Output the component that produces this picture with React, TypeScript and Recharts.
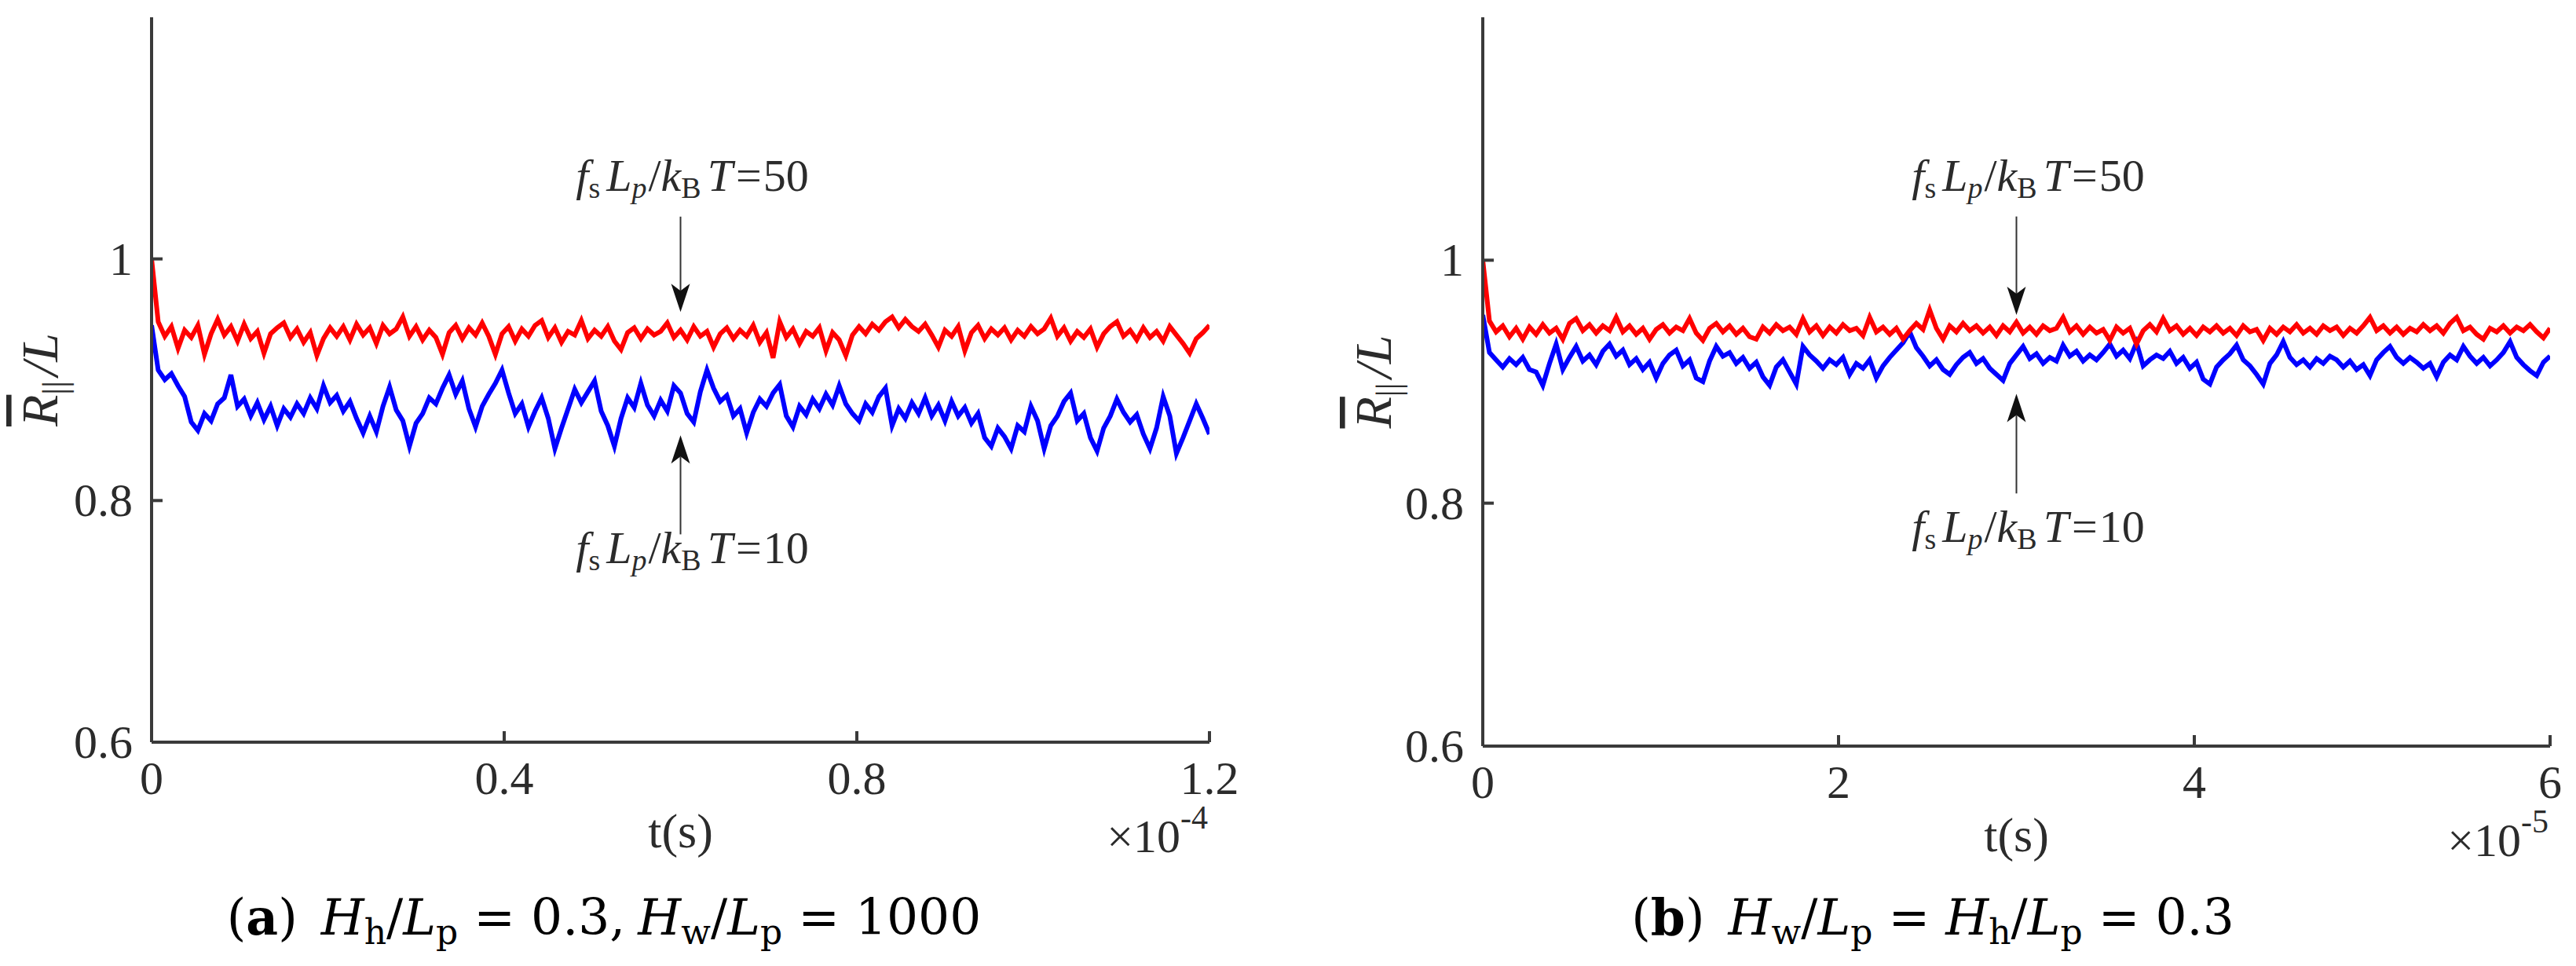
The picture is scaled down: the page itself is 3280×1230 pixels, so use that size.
import React from 'react';
import { LineChart, Line, XAxis, YAxis, ReferenceLine, ReferenceDot } from 'recharts';

// sampling step of the time axis (panel a in 1e-4 s, panel b in 1e-5 s)
const DT_A = 0.0075;
const DT_B = 0.0375;

// panel (a): fsLp/kBT = 50 (red) and 10 (blue)
const redA = [
  1.000, 0.948, 0.936, 0.944, 0.926, 0.941, 0.935, 0.945, 0.921, 0.938,
  0.950, 0.937, 0.944, 0.932, 0.946, 0.934, 0.940, 0.922, 0.938, 0.943,
  0.947, 0.935, 0.942, 0.931, 0.939, 0.920, 0.934, 0.943, 0.936, 0.944,
  0.933, 0.946, 0.937, 0.943, 0.930, 0.945, 0.938, 0.942, 0.952, 0.936,
  0.944, 0.933, 0.941, 0.935, 0.921, 0.939, 0.945, 0.934, 0.943, 0.937,
  0.947, 0.936, 0.921, 0.938, 0.944, 0.932, 0.942, 0.936, 0.945, 0.949,
  0.935, 0.943, 0.931, 0.940, 0.937, 0.949, 0.934, 0.941, 0.936, 0.944,
  0.932, 0.925, 0.939, 0.943, 0.934, 0.942, 0.937, 0.940, 0.947, 0.935,
  0.941, 0.933, 0.944, 0.936, 0.940, 0.927, 0.938, 0.943, 0.934, 0.941,
  0.936, 0.945, 0.931, 0.939, 0.918, 0.948, 0.935, 0.942, 0.930, 0.940,
  0.936, 0.943, 0.924, 0.939, 0.933, 0.920, 0.937, 0.944, 0.938, 0.946,
  0.941, 0.948, 0.952, 0.943, 0.950, 0.944, 0.940, 0.946, 0.937, 0.927,
  0.941, 0.936, 0.944, 0.924, 0.939, 0.945, 0.934, 0.942, 0.937, 0.943,
  0.933, 0.941, 0.936, 0.944, 0.938, 0.942, 0.951, 0.936, 0.943, 0.932,
  0.940, 0.935, 0.942, 0.927, 0.938, 0.944, 0.948, 0.936, 0.941, 0.933,
  0.943, 0.935, 0.940, 0.932, 0.944, 0.937, 0.930, 0.922, 0.934, 0.939,
  0.945,
];
const blueA = [
  0.945, 0.908, 0.900, 0.905, 0.895, 0.886, 0.865, 0.858, 0.872, 0.866,
  0.880, 0.885, 0.904, 0.878, 0.884, 0.870, 0.881, 0.867, 0.878, 0.862,
  0.876, 0.869, 0.880, 0.872, 0.885, 0.876, 0.895, 0.881, 0.887, 0.874,
  0.882, 0.868, 0.856, 0.870, 0.857, 0.878, 0.894, 0.875, 0.866, 0.845,
  0.864, 0.872, 0.885, 0.880, 0.893, 0.904, 0.888, 0.899, 0.876, 0.861,
  0.878, 0.888, 0.897, 0.908, 0.889, 0.872, 0.880, 0.861, 0.874, 0.885,
  0.868, 0.843, 0.860, 0.876, 0.892, 0.881, 0.890, 0.899, 0.874, 0.862,
  0.845, 0.868, 0.885, 0.877, 0.897, 0.879, 0.870, 0.883, 0.874, 0.895,
  0.889, 0.872, 0.865, 0.890, 0.908, 0.893, 0.882, 0.887, 0.870, 0.876,
  0.856, 0.873, 0.884, 0.878, 0.889, 0.896, 0.870, 0.861, 0.878, 0.871,
  0.884, 0.876, 0.888, 0.879, 0.895, 0.880, 0.872, 0.866, 0.880, 0.873,
  0.886, 0.893, 0.862, 0.876, 0.868, 0.881, 0.872, 0.885, 0.870, 0.879,
  0.866, 0.882, 0.870, 0.877, 0.864, 0.872, 0.852, 0.845, 0.860, 0.853,
  0.843, 0.862, 0.857, 0.878, 0.866, 0.843, 0.862, 0.870, 0.882, 0.889,
  0.866, 0.872, 0.852, 0.841, 0.860, 0.870, 0.884, 0.873, 0.865, 0.871,
  0.855, 0.843, 0.860, 0.886, 0.870, 0.839, 0.852, 0.866, 0.880, 0.868,
  0.855,
];

// panel (b)
const redB = [
  1.000, 0.950, 0.941, 0.946, 0.937, 0.944, 0.935, 0.945, 0.939, 0.947,
  0.940, 0.944, 0.935, 0.948, 0.952, 0.942, 0.947, 0.940, 0.946, 0.942,
  0.953, 0.941, 0.946, 0.939, 0.944, 0.935, 0.943, 0.947, 0.940, 0.945,
  0.942, 0.952, 0.940, 0.934, 0.944, 0.948, 0.941, 0.946, 0.939, 0.944,
  0.937, 0.935, 0.945, 0.940, 0.947, 0.942, 0.945, 0.939, 0.952, 0.941,
  0.946, 0.938, 0.945, 0.940, 0.947, 0.942, 0.944, 0.938, 0.953, 0.941,
  0.945, 0.939, 0.944, 0.935, 0.942, 0.948, 0.943, 0.959, 0.944, 0.935,
  0.946, 0.941, 0.948, 0.942, 0.946, 0.940, 0.945, 0.938, 0.946, 0.941,
  0.949, 0.940, 0.945, 0.939, 0.946, 0.942, 0.944, 0.953, 0.941, 0.946,
  0.939, 0.945, 0.940, 0.943, 0.934, 0.945, 0.940, 0.944, 0.931, 0.942,
  0.947, 0.941, 0.952, 0.942, 0.946, 0.939, 0.944, 0.938, 0.945, 0.941,
  0.946, 0.940, 0.944, 0.938, 0.946, 0.941, 0.943, 0.934, 0.944, 0.939,
  0.945, 0.941, 0.947, 0.940, 0.944, 0.939, 0.946, 0.942, 0.945, 0.938,
  0.944, 0.940, 0.946, 0.953, 0.942, 0.946, 0.940, 0.945, 0.939, 0.944,
  0.941, 0.947, 0.942, 0.946, 0.940, 0.948, 0.953, 0.942, 0.945, 0.939,
  0.935, 0.944, 0.941, 0.946, 0.940, 0.945, 0.942, 0.947, 0.941, 0.936,
  0.944,
];
const blueB = [
  0.955, 0.924, 0.918, 0.912, 0.919, 0.914, 0.920, 0.910, 0.908, 0.897,
  0.915, 0.931, 0.910, 0.920, 0.929, 0.917, 0.922, 0.914, 0.925, 0.931,
  0.921, 0.926, 0.914, 0.919, 0.910, 0.916, 0.903, 0.915, 0.922, 0.926,
  0.913, 0.918, 0.903, 0.900, 0.917, 0.929, 0.921, 0.924, 0.915, 0.920,
  0.911, 0.916, 0.904, 0.897, 0.912, 0.918, 0.908, 0.898, 0.929, 0.922,
  0.917, 0.911, 0.918, 0.914, 0.920, 0.906, 0.915, 0.911, 0.918, 0.903,
  0.913, 0.920, 0.926, 0.932, 0.941, 0.928, 0.921, 0.913, 0.918, 0.910,
  0.906, 0.914, 0.920, 0.924, 0.915, 0.919, 0.911, 0.906, 0.901, 0.915,
  0.922, 0.929, 0.919, 0.923, 0.915, 0.920, 0.917, 0.930, 0.921, 0.925,
  0.917, 0.922, 0.918, 0.924, 0.931, 0.921, 0.926, 0.919, 0.932, 0.913,
  0.918, 0.922, 0.919, 0.925, 0.915, 0.920, 0.911, 0.916, 0.902, 0.898,
  0.912, 0.918, 0.923, 0.930, 0.918, 0.913, 0.906, 0.898, 0.915, 0.922,
  0.933, 0.920, 0.914, 0.918, 0.912, 0.919, 0.915, 0.921, 0.918, 0.912,
  0.917, 0.910, 0.914, 0.905, 0.918, 0.924, 0.929, 0.920, 0.915, 0.920,
  0.916, 0.911, 0.915, 0.904, 0.916, 0.922, 0.918, 0.929, 0.921, 0.915,
  0.920, 0.913, 0.918, 0.924, 0.933, 0.920, 0.914, 0.909, 0.905, 0.916,
  0.921,
];

const ticksA = [0, 0.4, 0.8, 1.2];
const ticksB = [0, 2, 4, 6];
const yTicks = [0.6, 0.8, 1];

const FRAME = '#3a3a3a';
const TXT = '#2b2b2b';
const SERIF = "'Liberation Serif', 'Times New Roman', serif";
const CAP_FONT = "'DejaVu Serif', serif";

const makeRows = (dt: number, hi: number[], lo: number[]) =>
  hi.map((v, i) => ({ t: +(i * dt).toFixed(4), hi: v, lo: lo[i] }));

const fmtY = (v: number) => (v === 1 ? '1' : v.toFixed(1));

const BottomTick = (p: any) => (
  <g>
    <line x1={p.x} y1={p.y} x2={p.x} y2={p.y - 14} stroke={FRAME} strokeWidth={4} />
    <text x={p.x} y={p.y + 66} textAnchor="middle" fontSize={60} style={{ fontFamily: SERIF }} fill={TXT}>
      {p.fmt(p.payload.value)}
    </text>
  </g>
);
const TopTick = (p: any) => (
  <line x1={p.x} y1={p.y} x2={p.x} y2={p.y + 14} stroke={FRAME} strokeWidth={4} />
);
const LeftTick = (p: any) => (
  <g>
    <line x1={p.x} y1={p.y} x2={p.x + 14} y2={p.y} stroke={FRAME} strokeWidth={4} />
    <text x={p.x - 24} y={p.y + 20} textAnchor="end" fontSize={60} style={{ fontFamily: SERIF }} fill={TXT}>
      {fmtY(p.payload.value)}
    </text>
  </g>
);
const RightTick = (p: any) => (
  <line x1={p.x} y1={p.y} x2={p.x - 14} y2={p.y} stroke={FRAME} strokeWidth={4} />
);

const Arrow = (p: any) => {
  const dir = Math.sign(p.y2 - p.y1);
  const len = 36, half = 12, notch = 9;
  const back = p.y2 - dir * len;
  const pts = `${p.x2},${p.y2} ${p.x2 - half},${back} ${p.x2},${back + dir * notch} ${p.x2 + half},${back}`;
  return (
    <g>
      <line x1={p.x1} y1={p.y1} x2={p.x2} y2={back + dir * notch} stroke="#333" strokeWidth={2} />
      <polygon points={pts} fill="#111" />
    </g>
  );
};

const ForceText = (p: any) => (
  <text x={p.cx + 15} y={p.cy + 18} textAnchor="middle" style={{ fontFamily: SERIF }} fontSize={58} fill={TXT}>
    <tspan fontStyle="italic">f</tspan>
    <tspan fontSize={38} dy={9}>s</tspan>
    <tspan fontStyle="italic" dy={-9} dx={8}>L</tspan>
    <tspan fontSize={38} fontStyle="italic" dy={9}>p</tspan>
    <tspan dy={-9} dx={2}>/</tspan>
    <tspan fontStyle="italic">k</tspan>
    <tspan fontSize={38} dy={9}>B</tspan>
    <tspan fontStyle="italic" dy={-9} dx={8}>T</tspan>
    <tspan dx={4}>=</tspan>
    <tspan dx={2}>{p.value}</tspan>
  </text>
);

type PanelProps = {
  rows: { t: number; hi: number; lo: number }[];
  xMax: number;
  xTicks: number[];
  fmtX: (v: number) => string;
  exp: string;
  left: number;
  right: number;
  bottom: number;
  labelX: number;
  capX: number;
  tag: string;
  capRest: React.ReactNode;
  arrowX: number;
  hiArrow: [number, number];
  loArrow: [number, number];
  hiTextY: number;
  loTextY: number;
};

const Panel = (P: PanelProps) => {
  const W = 1640, H = 1230;
  const yLabel = (props: any) => {
    const vb = props.viewBox;
    const cy = vb.y + vb.height / 2;
    return (
      <text transform={`translate(${P.labelX},${cy}) rotate(-90)`} textAnchor="middle" style={{ fontFamily: SERIF }} fontSize={66} fill={TXT}>
        <tspan fontStyle="italic" style={{ textDecoration: 'overline' }}>R</tspan>
        <tspan fontSize={44} dy={12}>||</tspan>
        <tspan dy={-12} dx={6} fontStyle="italic">/L</tspan>
      </text>
    );
  };
  const xLabel = (props: any) => {
    const vb = props.viewBox;
    return (
      <g>
        <text x={vb.x + vb.width / 2} y={vb.y + 134} textAnchor="middle" style={{ fontFamily: SERIF }} fontSize={62} fill={TXT}>
          t(s)
        </text>
        <text x={vb.x + vb.width - 2} y={vb.y + 140} textAnchor="end" style={{ fontFamily: SERIF }} fontSize={60} fill={TXT}>
          <tspan>×10</tspan>
          <tspan fontSize={42} dy={-30}>{P.exp}</tspan>
        </text>
        <text x={P.capX} y={1190} textAnchor="middle" style={{ fontFamily: CAP_FONT }} fontSize={63} fill="#000">
          <tspan>(</tspan>
          <tspan fontWeight="bold">{P.tag}</tspan>
          <tspan>)</tspan>
          {P.capRest}
        </text>
      </g>
    );
  };
  return (
    <LineChart width={W} height={H} data={P.rows} margin={{ top: 22, right: P.right, bottom: 0, left: 0 }}>
      <XAxis
        dataKey="t"
        type="number"
        domain={[0, P.xMax]}
        allowDataOverflow
        ticks={P.xTicks}
        interval={0}
        height={H - P.bottom}
        tickSize={0}
        tickMargin={0}
        tickLine={false}
        axisLine={{ stroke: FRAME, strokeWidth: 4 }}
        tick={(p: any) => <BottomTick {...p} fmt={P.fmtX} />}
        label={xLabel}
      />
      <XAxis
        xAxisId="top"
        orientation="top"
        type="number"
        domain={[0, P.xMax]}
        allowDataOverflow
        ticks={P.xTicks}
        interval={0}
        height={0}
        tickSize={0}
        tickMargin={0}
        tickLine={false}
        axisLine={{ stroke: FRAME, strokeWidth: 4 }}
        tick={(p: any) => <TopTick {...p} />}
      />
      <YAxis
        type="number"
        domain={[0.6, 1.2]}
        allowDataOverflow
        ticks={yTicks}
        interval={0}
        width={P.left}
        tickSize={0}
        tickMargin={0}
        tickLine={false}
        axisLine={{ stroke: FRAME, strokeWidth: 4 }}
        tick={(p: any) => <LeftTick {...p} />}
        label={yLabel}
      />
      <YAxis
        yAxisId="right"
        orientation="right"
        type="number"
        domain={[0.6, 1.2]}
        allowDataOverflow
        ticks={yTicks}
        interval={0}
        width={0}
        tickSize={0}
        tickMargin={0}
        tickLine={false}
        axisLine={{ stroke: FRAME, strokeWidth: 4 }}
        tick={(p: any) => <RightTick {...p} />}
      />
      <Line dataKey="lo" stroke="#0000ff" strokeWidth={6} strokeLinejoin="miter" dot={false} isAnimationActive={false} />
      <Line dataKey="hi" stroke="#ff0000" strokeWidth={6} strokeLinejoin="miter" dot={false} isAnimationActive={false} />
      <ReferenceLine
        segment={[{ x: P.arrowX, y: P.hiArrow[0] }, { x: P.arrowX, y: P.hiArrow[1] }]}
        shape={(p: any) => <Arrow {...p} />}
      />
      <ReferenceLine
        segment={[{ x: P.arrowX, y: P.loArrow[0] }, { x: P.arrowX, y: P.loArrow[1] }]}
        shape={(p: any) => <Arrow {...p} />}
      />
      <ReferenceDot x={P.arrowX} y={P.hiTextY} r={0} shape={(p: any) => <ForceText {...p} value="50" />} />
      <ReferenceDot x={P.arrowX} y={P.loTextY} r={0} shape={(p: any) => <ForceText {...p} value="10" />} />
    </LineChart>
  );
};

const sub = (s: string) => (
  <tspan fontSize={44} dy={12}>{s}</tspan>
);

const capA = (
  <>
    <tspan dx={30} fontStyle="italic">H</tspan>
    {sub('h')}
    <tspan dy={-12}>/</tspan>
    <tspan fontStyle="italic">L</tspan>
    {sub('p')}
    <tspan dy={-12} dx={20}>=</tspan>
    <tspan dx={20}>0.3,</tspan>
    <tspan fontStyle="italic" dx={16}>H</tspan>
    {sub('w')}
    <tspan dy={-12}>/</tspan>
    <tspan fontStyle="italic">L</tspan>
    {sub('p')}
    <tspan dy={-12} dx={20}>=</tspan>
    <tspan dx={20}>1000</tspan>
  </>
);

const capB = (
  <>
    <tspan dx={30} fontStyle="italic">H</tspan>
    {sub('w')}
    <tspan dy={-12}>/</tspan>
    <tspan fontStyle="italic">L</tspan>
    {sub('p')}
    <tspan dy={-12} dx={20}>=</tspan>
    <tspan dx={20} fontStyle="italic">H</tspan>
    {sub('h')}
    <tspan dy={-12}>/</tspan>
    <tspan fontStyle="italic">L</tspan>
    {sub('p')}
    <tspan dy={-12} dx={20}>=</tspan>
    <tspan dx={20}>0.3</tspan>
  </>
);

const App = () => (
  <div style={{ position: 'absolute', left: 0, top: 0, width: 3280, height: 1230, background: '#fff' }}>
    <div style={{ position: 'absolute', left: 0, top: 0 }}>
      <Panel
        rows={makeRows(DT_A, redA, blueA)}
        xMax={1.2}
        xTicks={ticksA}
        fmtX={(v) => (v === 0 ? '0' : v.toFixed(1))}
        exp="-4"
        left={193}
        right={100}
        bottom={945}
        labelX={73}
        capX={769}
        tag="a"
        capRest={capA}
        arrowX={0.6}
        hiArrow={[1.035, 0.956]}
        loArrow={[0.772, 0.854]}
        hiTextY={1.068}
        loTextY={0.76}
      />
    </div>
    <div style={{ position: 'absolute', left: 1640, top: 0 }}>
      <Panel
        rows={makeRows(DT_B, redB, blueB)}
        xMax={6}
        xTicks={ticksB}
        fmtX={(v) => String(v)}
        exp="-5"
        left={248}
        right={33}
        bottom={950}
        labelX={131}
        capX={821}
        tag="b"
        capRest={capB}
        arrowX={3}
        hiArrow={[1.036, 0.955]}
        loArrow={[0.808, 0.89]}
        hiTextY={1.069}
        loTextY={0.78}
      />
    </div>
  </div>
);

export default App;
